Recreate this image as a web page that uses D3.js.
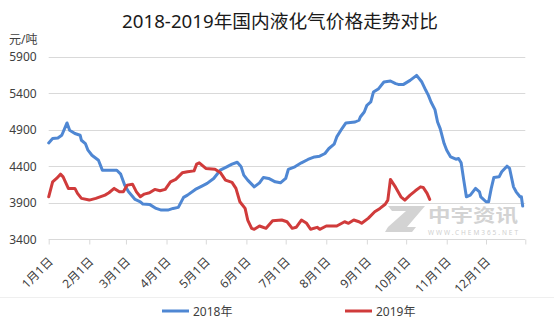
<!DOCTYPE html>
<html>
<head>
<meta charset="utf-8">
<script src="https://cdn.jsdelivr.net/npm/d3@7"></script>
<style>
  html, body { margin: 0; padding: 0; background: #fff; }
  svg { display: block; }
  text { font-family: "Noto Sans", "Noto Sans CJK SC", sans-serif; fill: #404040; }
</style>
</head>
<body>
<svg id="chart" width="554" height="332"></svg>
<script>
// 2018 and 2019 domestic LPG price (元/吨), sampled by month-day
const dates2018 = ["01-01","01-04","01-08","01-11","01-15","01-17","01-21","01-25","01-26","01-29","01-31",
  "02-03","02-08","02-10","02-11","02-22","02-25","02-28","03-03","03-08","03-12","03-14","03-19","03-24",
  "03-28","04-02","04-06","04-10","04-14","04-17","04-23","04-28","05-02","05-07","05-12","05-17","05-21",
  "05-25","05-27","05-28","05-30","06-02","06-07","06-11","06-14","06-18","06-23","06-27","07-01","07-03",
  "07-08","07-13","07-18","07-23","07-27","07-31","08-03","08-07","08-09","08-13","08-16","08-23","08-26",
  "08-27","08-30","09-01","09-04","09-06","09-10","09-14","09-19","09-23","09-25","09-29","10-04","10-09",
  "10-13","10-16","10-18","10-20","10-23","10-25","10-27","10-30","11-01","11-04","11-08","11-10","11-12",
  "11-14","11-16","11-19","11-23","11-26","11-27","12-01","12-03","12-05","12-07","12-11","12-13","12-17",
  "12-19","12-22","12-24","12-27","12-28","12-29"];
const values2018 = [4720,4780,4788,4825,4993,4893,4848,4825,4756,4711,4620,
  4551,4483,4392,4346,4346,4292,4142,4050,3946,3914,3882,3878,3823,
  3800,3800,3823,3837,3974,4005,4083,4128,4165,4233,4346,4392,4429,
  4455,4415,4392,4278,4210,4118,4173,4247,4233,4187,4173,4233,4356,
  4392,4447,4493,4528,4538,4575,4643,4702,4802,4916,4993,5006,5030,
  5075,5143,5234,5280,5416,5462,5553,5567,5531,5521,5521,5576,5644,
  5553,5440,5371,5280,5176,5006,4916,4711,4620,4528,4497,4506,4447,
  4210,3982,4005,4097,4050,3982,3914,3914,4097,4247,4255,4324,4401,
  4370,4118,4050,3982,3982,3855];

const dates2019 = ["01-01","01-04","01-07","01-10","01-12","01-16","01-21","01-23","01-26","02-01","02-06",
  "02-13","02-16","02-20","02-24","02-27","03-02","03-06","03-09","03-12","03-15","03-19","03-23","03-27",
  "03-31","04-04","04-08","04-13","04-17","04-22","04-24","04-26","05-01","05-08","05-12","05-16","05-21",
  "05-24","05-27","05-31","06-02","06-05","06-07","06-11","06-16","06-21","06-28","07-02","07-06","07-09",
  "07-13","07-17","07-20","07-25","07-27","08-01","08-09","08-15","08-18","08-22","08-26","08-28","09-02",
  "09-07","09-11","09-15","09-17","09-19","09-23","09-27","09-30","10-04","10-08","10-12","10-14","10-17",
  "10-19"];
const values2019 = [3982,4187,4233,4292,4255,4097,4097,4028,3960,3937,3960,
  4005,4037,4097,4050,4050,4142,4155,4050,3982,4019,4037,4083,4064,
  4083,4187,4220,4310,4324,4337,4429,4447,4370,4360,4315,4210,4180,
  4097,3914,3823,3664,3550,3537,3582,3550,3654,3664,3640,3550,3564,
  3664,3619,3537,3564,3537,3582,3582,3640,3619,3664,3640,3619,3687,
  3777,3823,3880,3937,4220,4110,3982,3937,4005,4064,4118,4110,4028,
  3946];

const yTicks = [3400, 3900, 4400, 4900, 5400, 5900];
const monthLabels = ["1月1日","2月1日","3月1日","4月1日","5月1日","6月1日",
  "7月1日","8月1日","9月1日","10月1日","11月1日","12月1日"];
const seriesNames = ["2018年", "2019年"];
const seriesColors = ["#4f87d3", "#d03b3b"];

const svg = d3.select("#chart");
const parseMD = d3.timeParse("%Y-%m-%d");
const toDate = md => parseMD("2018-" + md);

const plotLeft = 48.7, plotRight = 525.3, plotTop = 56.7, plotBottom = 239.3;

const x = d3.scaleTime()
  .domain([toDate("01-01"), toDate("12-31")])
  .range([plotLeft, plotRight]);
const y = d3.scaleLinear()
  .domain([3400, 5900])
  .range([plotBottom, plotTop]);

// title and unit
svg.append("text")
  .attr("x", 280).attr("y", 28)
  .attr("text-anchor", "middle")
  .style("font-size", "18.7px")
  .style("fill", "#1a1a1a")
  .text("2018-2019年国内液化气价格走势对比");

svg.append("text")
  .attr("x", 9).attr("y", 44)
  .style("font-size", "12px")
  .text("元/吨");

// horizontal gridlines
svg.append("g")
  .selectAll("line")
  .data(yTicks.filter(v => v !== 3400))
  .join("line")
  .attr("x1", plotLeft).attr("x2", plotRight)
  .attr("y1", d => Math.round(y(d)) + 0.5)
  .attr("y2", d => Math.round(y(d)) + 0.5)
  .attr("stroke", "#d9d9d9")
  .attr("stroke-width", 1);

// y labels
const yAxis = svg.append("g")
  .attr("transform", `translate(${plotLeft},0)`)
  .call(d3.axisLeft(y).tickValues(yTicks).tickSize(0).tickPadding(12).tickFormat(d3.format("d")));
yAxis.select(".domain").remove();
yAxis.selectAll("text")
  .style("font-size", "12px")
  .style("font-family", "\"Noto Sans\", sans-serif")
  .attr("fill", "#404040");

// x axis with month ticks
const monthStarts = d3.range(12).map(i => new Date(2018, i, 1));
const xAxis = svg.append("g")
  .attr("transform", `translate(0,${Math.round(plotBottom) + 0.5})`)
  .call(d3.axisBottom(x)
    .tickValues(monthStarts.concat([toDate("12-31")]))
    .tickSize(5)
    .tickFormat(""));
xAxis.select(".domain").attr("stroke", "#d9d9d9").attr("d", `M${plotLeft},0H${plotRight}`);
xAxis.selectAll(".tick line").attr("stroke", "#d9d9d9");

svg.append("g")
  .selectAll("text")
  .data(monthStarts)
  .join("text")
  .attr("transform", d => `translate(${x(d) + 5},${plotBottom + 23}) rotate(-45)`)
  .attr("text-anchor", "end")
  .style("font-size", "12px")
  .attr("fill", "#404040")
  .text((d, i) => monthLabels[i]);

// watermark
const wm = svg.append("g").attr("transform", "translate(385,206)");
wm.append("path")
  .attr("d", "M3,0H38L35,5L17,21H31L27,26H0L3,21L21,5H7Z M27,0H40L22,21H9Z")
  .attr("fill", "#d3d3d3");
wm.append("text")
  .attr("x", 43).attr("y", 16)
  .style("font-size", "18px")
  .style("font-weight", "bold")
  .style("font-family", "\"Noto Sans CJK SC\", sans-serif")
  .style("fill", "#d3d3d3")
  .attr("textLength", 90)
  .attr("lengthAdjust", "spacingAndGlyphs")
  .text("中宇资讯");
wm.append("text")
  .attr("x", 43).attr("y", 29)
  .style("font-size", "6.5px")
  .style("fill", "#cfcfcf")
  .attr("textLength", 90)
  .text("WWW.CHEM365.NET");

// price lines
const line = d3.line()
  .x(d => x(d.date))
  .y(d => y(d.value));

const series = [
  dates2018.map((d, i) => ({ date: toDate(d), value: values2018[i] })),
  dates2019.map((d, i) => ({ date: toDate(d), value: values2019[i] }))
];

svg.append("g")
  .selectAll("path")
  .data(series)
  .join("path")
  .attr("d", line)
  .attr("fill", "none")
  .attr("stroke", (d, i) => seriesColors[i])
  .attr("stroke-width", 3)
  .attr("stroke-linejoin", "round")
  .attr("stroke-linecap", "round");

// separator and legend
svg.append("line")
  .attr("x1", 0).attr("x2", 554)
  .attr("y1", 297.5).attr("y2", 297.5)
  .attr("stroke", "#efefef");

const legendX = [162, 345];
const legend = svg.append("g")
  .selectAll("g")
  .data(seriesNames)
  .join("g")
  .attr("transform", (d, i) => `translate(${legendX[i]},311)`);
legend.append("line")
  .attr("x1", 0).attr("x2", 27)
  .attr("stroke", (d, i) => seriesColors[i])
  .attr("stroke-width", 3);
legend.append("text")
  .attr("x", 31).attr("y", 4.5)
  .style("font-size", "12px")
  .attr("fill", "#404040")
  .text(d => d);
</script>
</body>
</html>
